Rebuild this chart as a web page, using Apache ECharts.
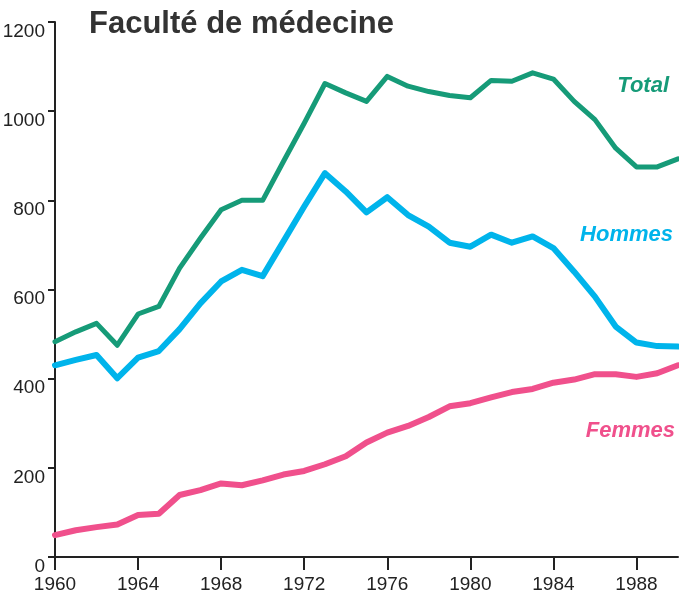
<!DOCTYPE html>
<html>
<head>
<meta charset="utf-8">
<script src="https://cdn.jsdelivr.net/npm/echarts@6/dist/echarts.min.js"></script>
<style>
  html, body { margin: 0; padding: 0; background: #fff; }
  #chart { width: 679px; height: 601px; }
</style>
</head>
<body>
<div id="chart"></div>
<script>
const years = [1960, 1961, 1962, 1963, 1964, 1965, 1966, 1967, 1968, 1969,
  1970, 1971, 1972, 1973, 1974, 1975, 1976, 1977, 1978, 1979,
  1980, 1981, 1982, 1983, 1984, 1985, 1986, 1987, 1988, 1989, 1990];

const total = [483, 505, 524, 475, 545, 562, 648, 715, 779, 800,
  800, 887, 973, 1062, 1041, 1022, 1078, 1056, 1044, 1035,
  1030, 1069, 1067, 1086, 1072, 1022, 981, 917, 875, 875, 893];

const hommes = [430, 442, 453, 401, 447, 462, 511, 569, 618, 644,
  630, 708, 786, 861, 820, 773, 807, 767, 741, 705,
  696, 723, 705, 719, 693, 640, 584, 517, 481, 473, 472];

const femmes = [49, 60, 67, 73, 94, 97, 139, 150, 165, 161,
  172, 185, 193, 208, 226, 257, 279, 294, 314, 338,
  345, 358, 370, 377, 391, 398, 410, 410, 404, 412, 430];

const title = 'Faculté de médecine';
const seriesNames = ['Total', 'Hommes', 'Femmes'];
const colors = ['#169b78', '#00b4eb', '#f0508c'];

const pairs = (vals) => years.map((y, i) => [y, vals[i]]);

const axisFont = '"Liberation Sans", Arial, sans-serif';
const labelFont = 'italic bold 22px "Liberation Sans", Arial, sans-serif';

const chart = echarts.init(document.getElementById('chart'), null, { renderer: 'canvas' });

const lineSeries = (name, vals, color, width) => ({
  name,
  type: 'line',
  data: pairs(vals),
  symbol: 'none',
  smooth: false,
  lineStyle: { color, width, join: 'round', cap: 'round' },
  z: 3
});

chart.setOption({
  backgroundColor: '#fff',
  animation: false,
  title: {
    text: title,
    left: 84,
    top: 4,
    textStyle: {
      fontFamily: '"Liberation Sans", Arial, sans-serif',
      fontWeight: 'bold',
      fontSize: 31,
      color: '#333'
    }
  },
  grid: { left: 55, right: 1, top: 22, bottom: 44, outerBoundsMode: 'none' },
  xAxis: {
    type: 'value',
    min: 1960,
    max: 1990,
    interval: 4,
    axisLine: { lineStyle: { color: '#222', width: 2 } },
    axisTick: { show: true, length: 13, lineStyle: { color: '#222', width: 2 } },
    axisLabel: {
      showMaxLabel: false,
      margin: 18,
      fontFamily: axisFont,
      fontSize: 19,
      color: '#222',
      formatter: (v) => (v % 4 === 0 ? String(v) : '')
    },
    splitLine: { show: false }
  },
  yAxis: {
    type: 'value',
    min: 0,
    max: 1200,
    interval: 200,
    axisLine: { show: true, lineStyle: { color: '#222', width: 2 } },
    axisTick: { show: true, length: 7, lineStyle: { color: '#222', width: 2 } },
    axisLabel: {
      margin: 10,
      fontFamily: axisFont,
      fontSize: 19,
      color: '#222',
      verticalAlign: 'top',
      formatter: (v) => String(v)
    },
    splitLine: { show: false }
  },
  series: [
    lineSeries(seriesNames[0], total, colors[0], 5),
    lineSeries(seriesNames[1], hommes, colors[1], 6),
    lineSeries(seriesNames[2], femmes, colors[2], 6)
  ],
  graphic: [
    { type: 'text', right: 10, top: 75,
      style: { text: seriesNames[0], fill: colors[0], font: labelFont } },
    { type: 'text', right: 6, top: 224,
      style: { text: seriesNames[1], fill: colors[1], font: labelFont } },
    { type: 'text', right: 4, top: 420,
      style: { text: seriesNames[2], fill: colors[2], font: labelFont } }
  ]
});
</script>
</body>
</html>
